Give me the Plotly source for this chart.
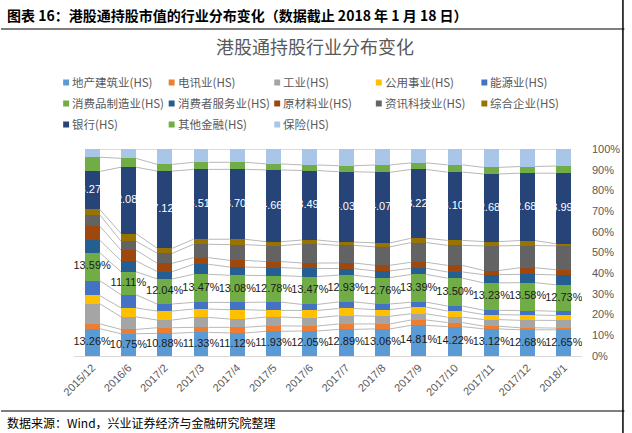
import numpy as np
import plotly.graph_objects as go

categories = ["2015/12", "2016/6", "2017/2", "2017/3", "2017/4", "2017/5", "2017/6",
              "2017/7", "2017/8", "2017/9", "2017/10", "2017/11", "2017/12", "2018/1"]

series_names = ["地产建筑业(HS)", "电讯业(HS)", "工业(HS)", "公用事业(HS)", "能源业(HS)",
                "消费品制造业(HS)", "消费者服务业(HS)", "原材料业(HS)", "资讯科技业(HS)", "综合企业(HS)",
                "银行(HS)", "其他金融(HS)", "保险(HS)"]

real_estate = [13.26, 10.75, 10.88, 11.33, 11.12, 11.93, 12.05, 12.89, 13.06, 14.81, 14.22, 13.12, 12.68, 12.65]
telecom = [2.4, 2.1, 2.7, 2.4, 2.7, 2.6, 2.4, 2.6, 2.4, 2.6, 2.0, 1.3, 1.0, 0.8]
industrial = [9.7, 6.1, 3.7, 4.8, 4.0, 4.3, 4.0, 4.0, 3.7, 3.0, 2.6, 3.2, 3.6, 3.7]
utilities = [4.0, 4.3, 4.3, 4.0, 4.5, 3.2, 3.5, 3.5, 3.2, 3.2, 3.0, 2.4, 2.6, 2.4]
energy = [7.2, 6.4, 3.4, 3.2, 3.5, 4.0, 2.9, 3.2, 2.7, 2.4, 2.4, 2.1, 2.1, 2.0]
consumer_goods = [13.59, 11.11, 12.04, 13.47, 13.08, 12.78, 13.47, 12.93, 12.76, 13.39, 13.50, 13.23, 13.58, 12.73]
consumer_services = [6.1, 5.3, 3.5, 4.8, 4.0, 3.9, 3.9, 3.2, 3.2, 3.0, 3.0, 4.0, 4.0, 4.8]
materials = [6.8, 5.2, 4.0, 3.2, 3.2, 2.9, 2.6, 2.7, 2.7, 2.9, 3.2, 2.0, 3.2, 2.5]
it = [5.5, 4.3, 4.8, 6.4, 7.6, 7.7, 9.2, 8.5, 8.9, 9.5, 9.7, 11.9, 10.8, 11.5]
conglomerates = [2.6, 3.7, 2.4, 2.4, 2.6, 1.9, 1.9, 1.6, 1.9, 2.1, 2.4, 2.1, 2.4, 1.0]
banks = [18.27, 32.08, 37.12, 33.51, 33.70, 34.66, 33.49, 34.03, 34.07, 33.22, 33.10, 32.68, 32.68, 33.99]
other_finance = [6.9, 4.3, 3.2, 3.4, 3.4, 2.9, 2.7, 2.9, 3.5, 3.2, 3.5, 3.2, 3.2, 3.5]
insurance = [4.0, 4.5, 7.4, 6.4, 6.4, 7.2, 7.7, 8.1, 7.7, 6.7, 7.7, 8.9, 8.5, 8.2]

colors = ["#5B9BD5", "#ED7D31", "#A5A5A5", "#FFC000", "#4472C4",
          "#70AD47", "#255E91", "#9E480E", "#636363", "#997300",
          "#264478", "#70AD47", "#A9C5E8"]

y_ticks = list(range(0, 101, 10))

raw = np.array([real_estate, telecom, industrial, utilities, energy, consumer_goods,
                consumer_services, materials, it, conglomerates, banks, other_finance, insurance])
pct = raw / raw.sum(axis=0) * 100.0
cum = np.cumsum(pct, axis=0)
mid = cum - pct / 2.0
xs = np.arange(len(categories))

W, H = 632, 433
L, R, T, B = 74, 43, 149, 77
PW, PH = W - L - R, H - T - B


def xp(px):
    return (px - L) / PW


def yp(py):
    return (H - B - py) / PH


bar_w = 0.41
fig = go.Figure()
for name, vals, col in zip(series_names, pct, colors):
    fig.add_trace(go.Bar(x=xs, y=vals, name=name, width=bar_w,
                         marker=dict(color=col, line=dict(width=0)),
                         showlegend=False, hoverinfo="name+y"))

# series lines
lx, ly = [], []
half = bar_w / 2
for k in range(len(series_names)):
    for i in range(len(categories) - 1):
        lx += [xs[i] + half, xs[i + 1] - half, None]
        ly += [cum[k, i], cum[k, i + 1], None]
fig.add_trace(go.Scatter(x=lx, y=ly, mode="lines", line=dict(color="#A6A6A6", width=0.8),
                         showlegend=False, hoverinfo="skip"))

# data labels
num_font = "Liberation Sans, Arial, sans-serif"
for idx, fcol in [(0, "#1a1a1a"), (5, "#1a1a1a"), (10, "#FFFFFF")]:
    fig.add_trace(go.Scatter(x=xs, y=mid[idx], mode="text",
                             text=[f"{v:.2f}%" for v in raw[idx]],
                             textfont=dict(family=num_font, size=11, color=fcol),
                             showlegend=False, hoverinfo="skip"))

cjk = "Noto Sans CJK SC, sans-serif"
annotations = []
shapes = []

# manual legend
col_x = [63, 170, 277, 380, 487]
row_y = [82.5, 103.5, 124.5]
for i, (name, col) in enumerate(zip(series_names, colors)):
    cx = col_x[i % 5]
    ry = row_y[i // 5]
    shapes.append(dict(type="rect", xref="paper", yref="paper",
                       x0=xp(cx), x1=xp(cx + 6), y0=yp(ry + 3), y1=yp(ry - 3),
                       fillcolor=col, line=dict(width=0)))
    annotations.append(dict(text=name, x=xp(cx + 7), y=yp(ry), xref="paper", yref="paper",
                            xanchor="left", yanchor="middle", showarrow=False,
                            font=dict(family=cjk, size=11.5, color="#595959")))

# chart title
annotations.append(dict(text="港股通持股行业分布变化", x=xp(318), y=yp(46), xref="paper", yref="paper",
                        xanchor="center", yanchor="middle", showarrow=False,
                        font=dict(family=cjk, size=18, color="#595959")))
# header
annotations.append(dict(text="<b>图表 16：港股通持股市值的行业分布变化（数据截止 2018 年 1 月 18 日）</b>",
                        x=xp(4), y=yp(15), xref="paper", yref="paper",
                        xanchor="left", yanchor="middle", showarrow=False,
                        font=dict(family=cjk, size=14, color="#000000")))
# footer
annotations.append(dict(text="数据来源：Wind，兴业证券经济与金融研究院整理",
                        x=xp(4), y=yp(422), xref="paper", yref="paper",
                        xanchor="left", yanchor="middle", showarrow=False,
                        font=dict(family=cjk, size=12, color="#000000")))

shapes.append(dict(type="line", xref="paper", yref="paper", x0=xp(0), x1=xp(632), y0=yp(29), y1=yp(29),
                   line=dict(color="#000000", width=1.2)))
shapes.append(dict(type="line", xref="paper", yref="paper", x0=xp(0), x1=xp(632), y0=yp(411), y1=yp(411),
                   line=dict(color="#000000", width=1.2)))
shapes.append(dict(type="line", xref="paper", yref="paper", x0=xp(630.5), x1=xp(630.5), y0=yp(0), y1=yp(433),
                   line=dict(color="#000000", width=1.5)))

fig.update_layout(
    width=W, height=H,
    margin=dict(l=L, r=R, t=T, b=B),
    barmode="stack",
    paper_bgcolor="white", plot_bgcolor="white",
    showlegend=False,
    annotations=annotations,
    shapes=shapes,
    xaxis=dict(range=[-0.5, len(categories) - 0.5], tickmode="array", tickvals=xs, ticktext=categories,
               tickangle=-45, showgrid=False, zeroline=False, showline=True, linecolor="#D9D9D9",
               linewidth=1, ticks="", tickfont=dict(family=num_font, size=11, color="#595959")),
    yaxis=dict(range=[0, 100], side="right", tickmode="array", tickvals=y_ticks,
               ticktext=[f"{v}%" for v in y_ticks], showgrid=False, zeroline=False, showline=False,
               ticks="", ticklabelstandoff=9,
               tickfont=dict(family=num_font, size=11, color="#595959")),
)

fig.write_html("out.html",
               config={"displayModeBar": False},
               post_script="document.body.style.margin='0';document.body.style.padding='0';"
                           "document.documentElement.style.overflow='hidden';")
